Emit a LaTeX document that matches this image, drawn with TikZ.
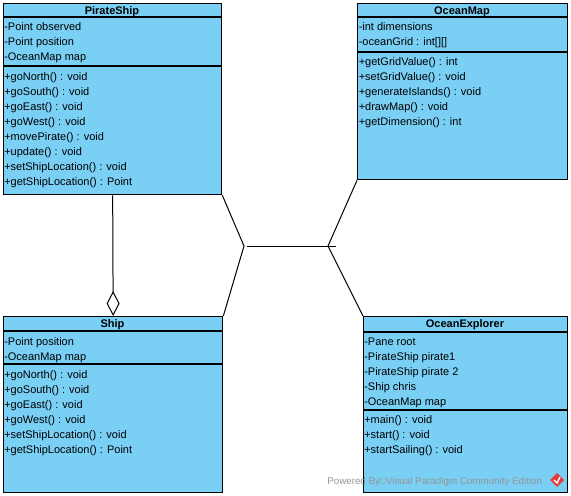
\documentclass[tikz,border=0pt]{standalone}
\usepackage{fontspec}
\setmainfont{Liberation Sans}
\usetikzlibrary{arrows.meta}
\definecolor{umlblue}{RGB}{122,207,245}
\definecolor{vpred}{RGB}{226,60,60}
\tikzset{
  classbox/.style={draw=black, fill=umlblue, line width=1pt, inner sep=0pt, anchor=north west},
  classname/.style={anchor=base, font=\fontsize{8.25}{10}\selectfont\bfseries, inner sep=0pt},
  member/.style={anchor=base west, inner sep=0pt, font=\fontsize{8.25}{10}\selectfont},
  assoc/.style={line width=0.75pt},
}
\begin{document}
\begin{tikzpicture}[x=0.75pt,y=-0.75pt]
    \useasboundingbox (0,0) rectangle (571,496);
    % class boxes
    \node[classbox, minimum width=163.5pt, minimum height=143.25pt] (ps) at (3,3) {};
    \node[classbox, minimum width=157.5pt, minimum height=132pt] (om) at (357,3) {};
    \node[classbox, minimum width=164.25pt, minimum height=132pt] (ship) at (3,316) {};
    \node[classbox, minimum width=153pt, minimum height=132pt] (oe) at (363,316) {};
    % compartments
    \draw[line width=1pt] (ps.north west) ++(0,14) -- ++(218,0);
    \draw[line width=1pt] (ps.north west) ++(0,63) -- ++(218,0);
    \draw[line width=1pt] (om.north west) ++(0,14) -- ++(210,0);
    \draw[line width=1pt] (om.north west) ++(0,49) -- ++(210,0);
    \draw[line width=1pt] (ship.north west) ++(0,15) -- ++(219,0);
    \draw[line width=1pt] (ship.north west) ++(0,48) -- ++(219,0);
    \draw[line width=1pt] (oe.north west) ++(0,16) -- ++(204,0);
    \draw[line width=1pt] (oe.north west) ++(0,94) -- ++(204,0);
    % names
    \node[classname] (ps-name) at (112,14) {PirateShip};
    \node[classname] (om-name) at (462,14) {OceanMap};
    \node[classname] (ship-name) at (112.5,327) {Ship};
    \node[classname] (oe-name) at (465,327) {OceanExplorer};
    % PirateShip
    \foreach \m [count=\i] in {-Point observed,-Point position,-OceanMap map}
    \node[member] (ps-a\i) at (4,15+15*\i) {\m};
    \foreach \m [count=\i] in {+goNorth() : void,+goSouth() : void,+goEast() : void,+goWest() : void,+movePirate() : void,+update() : void,+setShipLocation() : void,+getShipLocation() : Point}
    \node[member] (ps-m\i) at (4,65+15*\i) {\m};
    % OceanMap
    \foreach \m [count=\i] in {-int dimensions,-oceanGrid : int[][]}
    \node[member] (om-a\i) at (358.5,15+15*\i) {\m};
    \foreach \m [count=\i] in {+getGridValue() : int,+setGridValue() : void,+generateIslands() : void,+drawMap() : void,+getDimension() : int}
    \node[member] (om-m\i) at (358.5,50+15*\i) {\m};
    % Ship
    \foreach \m [count=\i] in {-Point position,-OceanMap map}
    \node[member] (ship-a\i) at (4,330+15*\i) {\m};
    \foreach \m [count=\i] in {+goNorth() : void,+goSouth() : void,+goEast() : void,+goWest() : void,+setShipLocation() : void,+getShipLocation() : Point}
    \node[member] (ship-m\i) at (4,363+15*\i) {\m};
    % OceanExplorer
    \foreach \m [count=\i] in {-Pane root,-PirateShip pirate1,-PirateShip pirate 2,-Ship chris,-OceanMap map}
    \node[member] (oe-a\i) at (364,330+15*\i) {\m};
    \foreach \m [count=\i] in {+main() : void,+start() : void,+startSailing() : void}
    \node[member] (oe-m\i) at (364,408+15*\i) {\m};
    % aggregation
    \draw[assoc, -{Diamond[open, length=18.75pt, width=9.75pt, line width=0.75pt]}] (ps.south) -- (ship.north);
    % associations
    \coordinate (jl) at (244,246);
    \coordinate (jr) at (328,246);
    \coordinate (hl) at (247,246);
    \coordinate (hr) at (336,246);
    \draw[assoc] (ps.south east) -- (jl) -- (ship.north east);
    \draw[assoc] (om.south west) -- (jr) -- (oe.north west);
    \draw[assoc] (hl) -- (hr);
    % watermark
    \node[anchor=base west, inner sep=0pt, text=black!42, font=\fontsize{7.35}{9}\selectfont] (wm) at (327,484) {Powered By□Visual Paradigm Community Edition};
    \fill[vpred] (557,473) -- (564,480) -- (557,487) -- (550,480) -- cycle;
    \draw[white, line width=1pt] (554,480) -- (557,483) -- (560,477);
\end{tikzpicture}
\end{document}
